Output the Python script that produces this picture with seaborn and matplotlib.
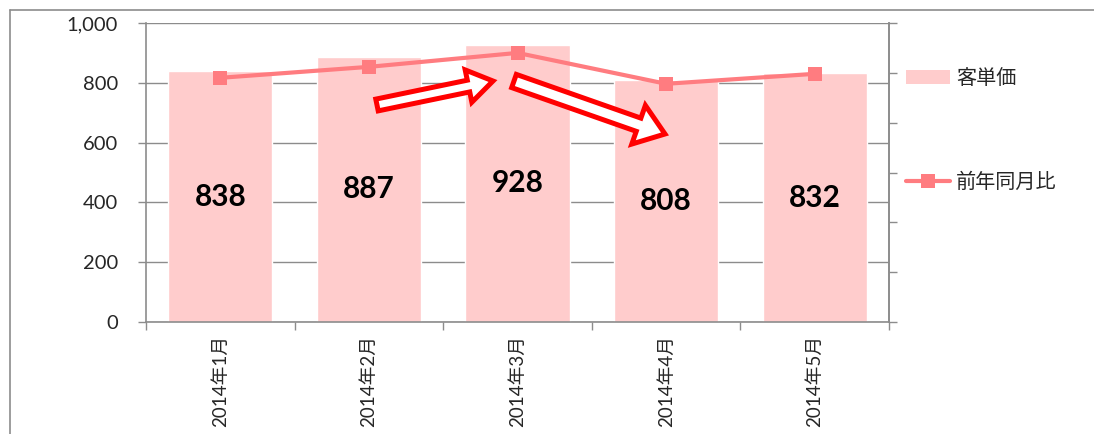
import matplotlib
matplotlib.use('Agg')
import matplotlib.pyplot as plt
import seaborn as sns
import numpy as np
from matplotlib.patches import Patch, FancyArrow
from matplotlib.lines import Line2D
from matplotlib.ticker import FuncFormatter, FixedLocator
from matplotlib.transforms import Affine2D

# dati
months = ['2014年1月', '2014年2月', '2014年3月', '2014年4月', '2014年5月']
unit_price = [838, 887, 928, 808, 832]          # 客単価
yoy_ratio = [98.0, 102.4, 108.0, 95.6, 99.6]    # 前年同月比 (%)

bar_color = '#FFCCCC'
line_color = '#FF7C80'
grey = '#8C8C8C'

sns.set_theme(style='white')
plt.rcParams['font.family'] = ['Lato', 'Noto Sans CJK JP', 'DejaVu Sans']

W, H = 1094, 434
fig = plt.figure(figsize=(W / 100, H / 100), dpi=100)
ax = fig.add_axes([146 / W, 1 - 322 / H, (889 - 146) / W, (322 - 23) / H])

sns.barplot(x=months, y=unit_price, color=bar_color, saturation=1, width=0.7, ax=ax, zorder=2)
ax.bar_label(ax.containers[0], label_type='center', fontsize=21.5, fontweight='bold', color='black')

ax.set_ylim(0, 1000)
ax.set_yticks(np.arange(0, 1001, 200))
ax.yaxis.set_major_formatter(FuncFormatter(lambda v, p: f'{int(v):,}'))
ax.set_xlim(-0.5, 4.5)
ax.set_xlabel('')
ax.set_ylabel('')
ax.grid(axis='y', color=grey, lw=1, zorder=0)
ax.set_axisbelow(True)

for s in ['left', 'bottom', 'right']:
    ax.spines[s].set_color(grey)
    ax.spines[s].set_linewidth(1.2)
ax.spines['top'].set_visible(False)

ax.tick_params(axis='y', direction='out', length=6, width=1, color=grey, pad=14, labelsize=14.5, left=True)
ax.tick_params(axis='x', which='major', length=0, pad=9.5, labelsize=13.5, labelrotation=90)
ax.xaxis.set_minor_locator(FixedLocator(np.arange(-0.5, 5, 1)))
ax.tick_params(axis='x', which='minor', direction='out', length=6, width=1, color=grey, bottom=True)

# asse secondario
ax2 = ax.twinx()
sns.lineplot(x=np.arange(len(months)), y=yoy_ratio, ax=ax2, color=line_color, lw=3,
             marker='s', markersize=10, markeredgewidth=0, zorder=3)
ax2.set_ylim(0, 120)
ax2.set_yticks(np.arange(0, 121, 20))
ax2.set_yticklabels([])
ax2.tick_params(axis='y', direction='out', length=6, width=1, color=grey, right=True)
for s in ['left', 'bottom', 'right', 'top']:
    ax2.spines[s].set_visible(False)
ax2.spines['right'].set_visible(True)
ax2.spines['right'].set_color(grey)
ax2.spines['right'].set_linewidth(1.2)

# frecce (coordinate in pixel dell'immagine)
px = Affine2D().scale(1, -1).translate(0, H)
arrows = [
    (377, 105, 116, -24, 12, 33, 25),
    (514, 81, 151, 53, 14, 41, 28),
]
for x0, y0, dx, dy, w, hw, hl in arrows:
    fig.add_artist(FancyArrow(x0, y0, dx, dy, width=w, head_width=hw, head_length=hl,
                              length_includes_head=True, facecolor='white', edgecolor='#FF0000',
                              lw=3.6, transform=px, joinstyle='miter'))

# legenda
handles = [Patch(facecolor=bar_color, edgecolor='none'),
           Line2D([], [], color=line_color, lw=3, marker='s', markersize=10, markeredgewidth=0)]
fig.legend(handles, ['客単価', '前年同月比'], loc='upper left', bbox_to_anchor=(906 / W, 1 - 68 / H),
           frameon=False, fontsize=14.5, labelspacing=4.2, handlelength=2.2, handletextpad=0.3,
           borderpad=0, borderaxespad=0)

# cornice esterna
fig.add_artist(Line2D([10 / W, 10 / W], [0, 1 - 10 / H], transform=fig.transFigure, color=grey, lw=1.2))
fig.add_artist(Line2D([10 / W, 1], [1 - 10 / H, 1 - 10 / H], transform=fig.transFigure, color=grey, lw=1.2))

fig.savefig('out.png', dpi=100)
